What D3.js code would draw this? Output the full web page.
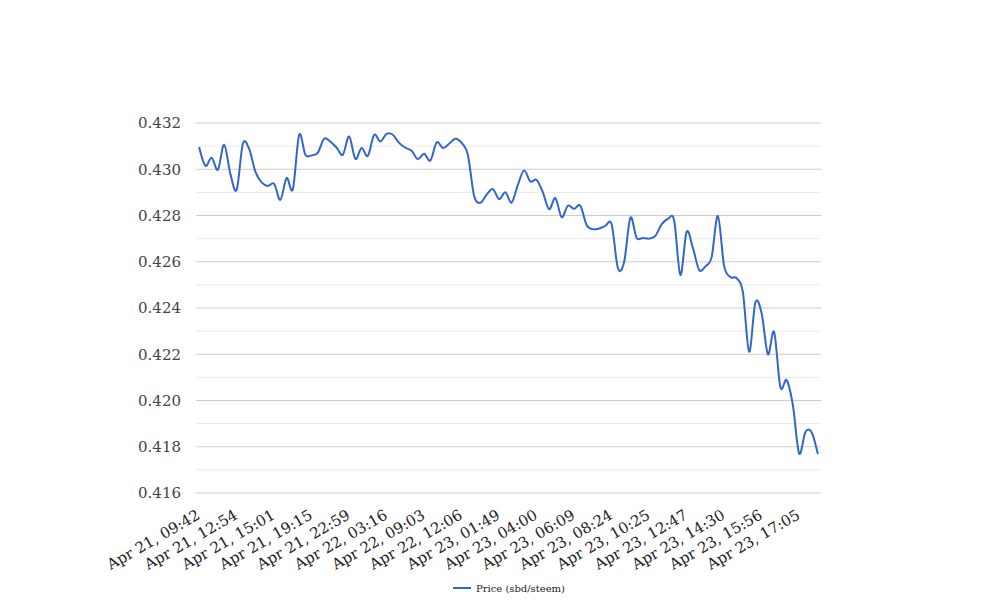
<!DOCTYPE html>
<html><head><meta charset="utf-8">
<script src="https://cdn.jsdelivr.net/npm/d3@7"></script>
<style>body{margin:0;background:#fff}svg{display:block}text{font-family:"DejaVu Serif",serif}</style>
</head><body><svg id="c" width="1008" height="616"></svg>
<script>
const seriesName = "Price (sbd/steem)";
const tickLabels = ["Apr 21, 09:42","Apr 21, 12:54","Apr 21, 15:01","Apr 21, 19:15","Apr 21, 22:59","Apr 22, 03:16","Apr 22, 09:03","Apr 22, 12:06","Apr 23, 01:49","Apr 23, 04:00","Apr 23, 06:09","Apr 23, 08:24","Apr 23, 10:25","Apr 23, 12:47","Apr 23, 14:30","Apr 23, 15:56","Apr 23, 17:05"];
const tickEvery = 6;
const values = [0.43096,0.43015,0.4305,0.42998,0.43106,0.4298,0.42911,0.4311,0.43088,0.4299,
0.42943,0.42928,0.42937,0.42868,0.42962,0.42914,0.43149,0.43063,0.4306,0.43072,
0.43132,0.43119,0.43093,0.43063,0.43142,0.43045,0.43092,0.43058,0.43149,0.4312,
0.43153,0.43149,0.43114,0.43093,0.4308,0.43044,0.43067,0.43038,0.43116,0.43092,
0.4311,0.43132,0.43114,0.43062,0.42885,0.42855,0.4289,0.42914,0.42871,0.429,
0.42856,0.42933,0.42995,0.42947,0.42954,0.429,0.42827,0.42875,0.42793,0.42842,
0.42829,0.42842,0.42759,0.42741,0.42744,0.42755,0.42762,0.42573,0.42599,0.4279,
0.42703,0.42703,0.427,0.42712,0.42762,0.42785,0.42778,0.42543,0.42729,0.4266,
0.42565,0.4258,0.4262,0.42798,0.42582,0.42534,0.42529,0.42469,0.42211,0.42424,
0.42377,0.422,0.42296,0.42058,0.42088,0.4198,0.41771,0.41863,0.41863,0.41768];
const yMajor = [0.416,0.418,0.420,0.422,0.424,0.426,0.428,0.430,0.432];
const yMinor = [0.417,0.419,0.421,0.423,0.425,0.427,0.429,0.431];

const svg = d3.select("#c");
const L=196, R=821, T=123, B=493;
const idx = values.map((d,i)=>i);
const x = d3.scalePoint().domain(idx).range([L,R]).padding(0.5);
const y = d3.scaleLinear().domain([0.416,0.432]).range([B,T]);

svg.append("g").selectAll("line").data(yMinor).join("line")
  .attr("x1",L).attr("x2",R).attr("y1",d=>y(d)).attr("y2",d=>y(d))
  .attr("stroke","#ebebeb").attr("stroke-width",1);
svg.append("g").selectAll("line").data(yMajor).join("line")
  .attr("x1",L).attr("x2",R).attr("y1",d=>y(d)).attr("y2",d=>y(d))
  .attr("stroke","#cccccc").attr("stroke-width",1);

svg.append("g").selectAll("text").data(yMajor).join("text")
  .attr("x",181).attr("y",d=>y(d)).attr("dy","0.35em")
  .attr("text-anchor","end").attr("font-size",15).attr("fill","#444")
  .text(d=>d3.format(".3f")(d));

const tickIdx = tickLabels.map((d,i)=>i*tickEvery);
svg.append("g").selectAll("text").data(tickIdx).join("text")
  .attr("transform",d=>`translate(${x(d)+2},518) rotate(-30)`)
  .attr("text-anchor","end").attr("font-size",15).attr("fill","#222")
  .text((d,i)=>tickLabels[i]);

const line = d3.line().x((d,i)=>x(i)).y(d=>y(d)).curve(d3.curveCardinal.tension(0));
svg.append("path").datum(values).attr("d",line)
  .attr("fill","none").attr("stroke","#3366cc").attr("stroke-width",2);

const lg = svg.append("g");
lg.append("line").attr("x1",453).attr("x2",471).attr("y1",588).attr("y2",588)
  .attr("stroke","#3366cc").attr("stroke-width",2);
lg.append("text").attr("x",476).attr("y",588).attr("dy","0.35em")
  .attr("font-size",10).attr("fill","#222").text(seriesName);
</script></body></html>
